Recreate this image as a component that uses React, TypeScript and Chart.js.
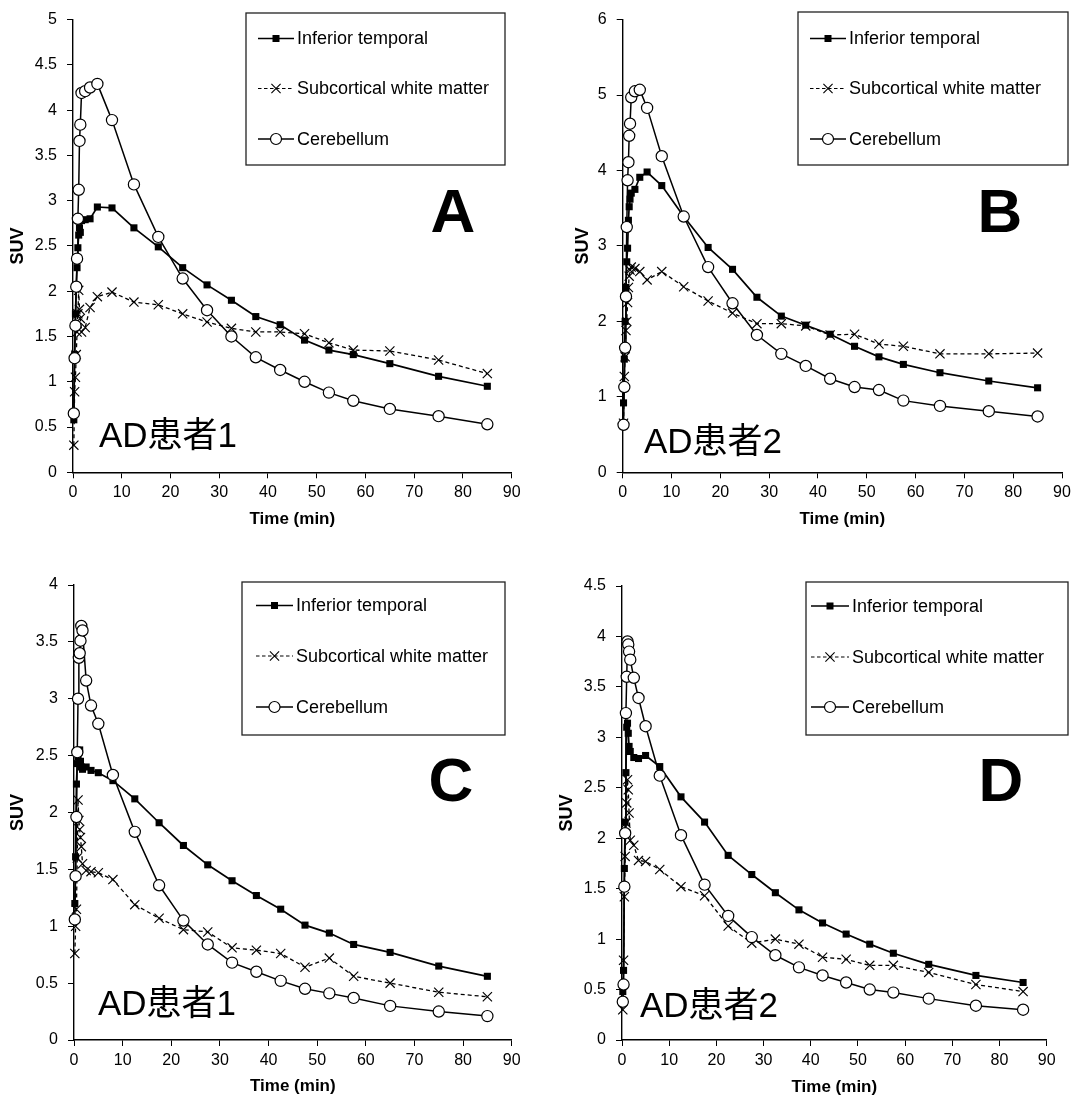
import React, { useEffect, useRef } from "react";
import { Chart, registerables } from "chart.js";

Chart.register(...registerables);

// Frame mid-times (min), shared by all panels
const timeMin = [0.17, 0.33, 0.5, 0.67, 0.83, 1.0, 1.17, 1.33, 1.5, 1.75, 2.5, 3.5, 5, 8, 12.5, 17.5, 22.5, 27.5, 32.5, 37.5, 42.5, 47.5, 52.5, 57.5, 65, 75, 85];

const seriesNames = ["Inferior temporal", "Subcortical white matter", "Cerebellum"];

// Panel A
const itA = [0.58, 1.3, 1.75, 2.05, 2.26, 2.48, 2.62, 2.7, 2.65, 2.78, 2.79, 2.8, 2.93, 2.92, 2.7, 2.49, 2.26, 2.07, 1.9, 1.72, 1.63, 1.46, 1.35, 1.3, 1.2, 1.06, 0.95];
const swmA = [0.3, 0.89, 1.05, 1.3, 1.55, 1.75, 2.01, 1.8, 1.7, 1.55, 1.6, 1.82, 1.94, 1.99, 1.88, 1.85, 1.75, 1.66, 1.59, 1.55, 1.55, 1.53, 1.43, 1.35, 1.34, 1.24, 1.09];
const cerA = [0.65, 1.26, 1.62, 2.05, 2.36, 2.8, 3.12, 3.66, 3.84, 4.19, 4.21, 4.25, 4.29, 3.89, 3.18, 2.6, 2.14, 1.79, 1.5, 1.27, 1.13, 1.0, 0.88, 0.79, 0.7, 0.62, 0.53];

// Panel B
const itB = [0.92, 1.5, 2.0, 2.45, 2.79, 2.97, 3.34, 3.52, 3.62, 3.7, 3.75, 3.91, 3.98, 3.8, 3.39, 2.98, 2.69, 2.32, 2.07, 1.95, 1.83, 1.67, 1.53, 1.43, 1.32, 1.21, 1.12];
const swmB = [0.65, 1.27, 1.53, 1.88, 2.0, 2.25, 2.45, 2.6, 2.68, 2.72, 2.7, 2.66, 2.55, 2.66, 2.46, 2.27, 2.11, 1.97, 1.97, 1.94, 1.82, 1.83, 1.7, 1.67, 1.57, 1.57, 1.58];
const cerB = [0.63, 1.13, 1.65, 2.33, 3.25, 3.87, 4.11, 4.46, 4.62, 4.97, 5.05, 5.07, 4.83, 4.19, 3.39, 2.72, 2.24, 1.82, 1.57, 1.41, 1.24, 1.13, 1.09, 0.95, 0.88, 0.81, 0.74];

// Panel C
const itC = [1.2, 1.61, 2.25, 2.43, 2.49, 2.53, 2.55, 2.45, 2.4, 2.38, 2.4, 2.37, 2.35, 2.28, 2.12, 1.91, 1.71, 1.54, 1.4, 1.27, 1.15, 1.01, 0.94, 0.84, 0.77, 0.65, 0.56];
const swmC = [0.76, 1.0, 1.15, 1.6, 2.11, 1.93, 1.85, 1.78, 1.7, 1.55, 1.49, 1.48, 1.47, 1.41, 1.19, 1.07, 0.97, 0.95, 0.81, 0.79, 0.76, 0.64, 0.72, 0.56, 0.5, 0.42, 0.38];
const cerC = [1.06, 1.44, 1.96, 2.53, 3.0, 3.36, 3.4, 3.51, 3.64, 3.6, 3.16, 2.94, 2.78, 2.33, 1.83, 1.36, 1.05, 0.84, 0.68, 0.6, 0.52, 0.45, 0.41, 0.37, 0.3, 0.25, 0.21];

// Panel D
const itD = [0.48, 0.69, 1.7, 2.16, 2.65, 3.1, 3.14, 3.04, 2.91, 2.86, 2.8, 2.79, 2.82, 2.71, 2.41, 2.16, 1.83, 1.64, 1.46, 1.29, 1.16, 1.05, 0.95, 0.86, 0.75, 0.64, 0.57];
const swmD = [0.3, 0.79, 1.42, 1.82, 2.15, 2.35, 2.58, 2.48, 2.25, 1.98, 1.93, 1.78, 1.77, 1.69, 1.52, 1.43, 1.13, 0.96, 1.0, 0.95, 0.82, 0.8, 0.74, 0.74, 0.67, 0.55, 0.48];
const cerD = [0.38, 0.55, 1.52, 2.05, 3.24, 3.6, 3.95, 3.92, 3.85, 3.77, 3.59, 3.39, 3.11, 2.62, 2.03, 1.54, 1.23, 1.02, 0.84, 0.72, 0.64, 0.57, 0.5, 0.47, 0.41, 0.34, 0.3];

// Axis ranges / tick steps
const xMax = 90;
const xStep = 10;
const yMaxes = [5, 6, 4, 4.5];
const ySteps = [0.5, 1, 0.5, 0.5];
const panelLetters = ["A", "B", "C", "D"];
const panelCaptions = ["AD患者1", "AD患者2", "AD患者1", "AD患者2"];

const FONT = '"Liberation Sans", Arial, "Noto Sans CJK JP", sans-serif';

type Geo = {
  left: number; top: number;
  l: number; r: number; t: number; b: number;
  suvX: number; timeY: number;
  letterX: number; letterY: number;
  capX: number; capY: number;
  box: [number, number, number, number];
  rows: [number, number, number];
  lx0: number; lx1: number; tx: number;
};

const geos: Geo[] = [
  { left: 0, top: 0, l: 73, r: 511.7, t: 18.3, b: 472.3, suvX: 18.5, timeY: 519, letterX: 453, letterY: 215, capX: 99, capY: 447, box: [246, 13, 259, 152], rows: [38.5, 88.5, 139], lx0: 258, lx1: 294, tx: 297 },
  { left: 540, top: 0, l: 82.7, r: 522, t: 19, b: 472.3, suvX: 43.5, timeY: 519, letterX: 460, letterY: 215, capX: 104, capY: 453, box: [258, 12, 270, 153], rows: [38.5, 88.5, 139], lx0: 270, lx1: 306, tx: 309 },
  { left: 0, top: 551, l: 74, r: 511.7, t: 34, b: 489, suvX: 18.5, timeY: 535.7, letterX: 451, letterY: 233, capX: 98, capY: 464, box: [242, 31, 263, 153], rows: [54.5, 105, 156], lx0: 256, lx1: 293, tx: 296 },
  { left: 540, top: 551, l: 82, r: 506.7, t: 35, b: 489, suvX: 27.5, timeY: 536, letterX: 461, letterY: 233, capX: 100, capY: 466, box: [266, 31, 262, 153], rows: [55, 106, 156], lx0: 271, lx1: 309, tx: 312 },
];

const panelSeries = [
  [itA, swmA, cerA],
  [itB, swmB, cerB],
  [itC, swmC, cerC],
  [itD, swmD, cerD],
];

function drawMarker(ctx: CanvasRenderingContext2D, kind: number, x: number, y: number) {
  ctx.save();
  ctx.setLineDash([]);
  if (kind === 0) {
    ctx.fillStyle = "#000";
    ctx.fillRect(x - 3.5, y - 3.5, 7, 7);
  } else if (kind === 1) {
    ctx.strokeStyle = "#000";
    ctx.lineWidth = 1.1;
    const d = 4.6;
    ctx.beginPath();
    ctx.moveTo(x - d, y - d); ctx.lineTo(x + d, y + d);
    ctx.moveTo(x - d, y + d); ctx.lineTo(x + d, y - d);
    ctx.stroke();
  } else {
    ctx.fillStyle = "#fff";
    ctx.strokeStyle = "#000";
    ctx.lineWidth = 1.2;
    ctx.beginPath();
    ctx.arc(x, y, 5.5, 0, Math.PI * 2);
    ctx.fill();
    ctx.stroke();
  }
  ctx.restore();
}

function PanelChart({ idx }: { idx: number }) {
  const ref = useRef<HTMLCanvasElement>(null);
  const g = geos[idx];
  useEffect(() => {
    const canvas = ref.current!;
    const [it, swm, cer] = panelSeries[idx];
    const mk = (arr: number[]) => timeMin.map((t, i) => ({ x: t, y: arr[i] }));
    const W = 540, H = 551;
    const xAxisH = 40;
    const overlay = {
      id: "overlay" + idx,
      afterDraw(chart: any) {
        const ctx: CanvasRenderingContext2D = chart.ctx;
        const a = chart.chartArea;
        ctx.save();
        ctx.fillStyle = "#000";
        ctx.font = `bold 18px ${FONT}`;
        ctx.textAlign = "center";
        ctx.textBaseline = "middle";
        ctx.translate(g.suvX, (a.top + a.bottom) / 2);
        ctx.rotate(-Math.PI / 2);
        ctx.fillText("SUV", 0, 0);
        ctx.restore();

        ctx.save();
        ctx.fillStyle = "#000";
        ctx.textAlign = "center";
        ctx.textBaseline = "middle";
        ctx.font = `bold 17px ${FONT}`;
        ctx.fillText("Time (min)", (a.left + a.right) / 2, g.timeY);
        ctx.font = `bold 62px ${FONT}`;
        ctx.fillText(panelLetters[idx], g.letterX, g.letterY);
        ctx.textAlign = "left";
        ctx.textBaseline = "alphabetic";
        ctx.font = `35px ${FONT}`;
        ctx.fillText(panelCaptions[idx], g.capX, g.capY);

        // legend
        const [bx, by, bw, bh] = g.box;
        ctx.fillStyle = "#fff";
        ctx.fillRect(bx, by, bw, bh);
        ctx.strokeStyle = "#222";
        ctx.lineWidth = 1.3;
        ctx.strokeRect(bx, by, bw, bh);
        ctx.font = `18px ${FONT}`;
        ctx.textBaseline = "middle";
        for (let k = 0; k < 3; k++) {
          const y = g.rows[k];
          ctx.strokeStyle = "#000";
          ctx.lineWidth = k === 1 ? 1.2 : 1.5;
          ctx.setLineDash(k === 1 ? [3.5, 2.5] : []);
          ctx.beginPath();
          ctx.moveTo(g.lx0, y);
          ctx.lineTo(g.lx1, y);
          ctx.stroke();
          ctx.setLineDash([]);
          drawMarker(ctx, k, (g.lx0 + g.lx1) / 2, y);
          ctx.fillStyle = "#000";
          ctx.fillText(seriesNames[k], g.tx, y + 1);
        }
        ctx.restore();
      },
    };

    const chart = new Chart(canvas, {
      type: "line",
      data: {
        datasets: [
          {
            label: seriesNames[2],
            data: mk(cer),
            borderColor: "#000",
            borderWidth: 1.5,
            pointStyle: "circle",
            pointRadius: 5.6,
            pointBackgroundColor: "#fff",
            pointBorderColor: "#000",
            pointBorderWidth: 1.2,
            tension: 0,
            clip: false,
          },
          {
            label: seriesNames[0],
            data: mk(it),
            borderColor: "#000",
            borderWidth: 1.7,
            pointStyle: "rect",
            pointRadius: 5,
            pointBackgroundColor: "#000",
            pointBorderColor: "#000",
            pointBorderWidth: 0,
            tension: 0,
            clip: false,
          },
          {
            label: seriesNames[1],
            data: mk(swm),
            borderColor: "#000",
            borderWidth: 1.3,
            borderDash: [4, 3],
            pointStyle: "crossRot",
            pointRadius: 6.5,
            pointBorderColor: "#000",
            pointBorderWidth: 1.15,
            pointBackgroundColor: "#fff",
            tension: 0,
            clip: false,
          },
        ] as any,
      },
      options: {
        responsive: false,
        animation: false,
        devicePixelRatio: 1,
        layout: {
          padding: { left: 0, top: g.t, right: W - g.r, bottom: H - g.b - xAxisH },
        },
        plugins: { legend: { display: false }, tooltip: { enabled: false } },
        scales: {
          x: {
            type: "linear",
            min: 0,
            max: xMax,
            ticks: {
              stepSize: xStep,
              color: "#000",
              font: { size: 16, family: FONT },
              padding: 5,
              maxRotation: 0,
              autoSkip: false,
            },
            grid: { display: true, drawOnChartArea: false, drawTicks: true, tickLength: 6, color: "#000", lineWidth: 1 },
            border: { display: true, color: "#000", width: 1.4 },
            afterFit: (s: any) => { s.height = xAxisH; },
          },
          y: {
            type: "linear",
            min: 0,
            max: yMaxes[idx],
            ticks: {
              stepSize: ySteps[idx],
              color: "#000",
              font: { size: 16, family: FONT },
              padding: 10,
              autoSkip: false,
              callback: (v: any) => String(Math.round(Number(v) * 100) / 100),
            },
            grid: { display: true, drawOnChartArea: false, drawTicks: true, tickLength: 6, color: "#000", lineWidth: 1 },
            border: { display: true, color: "#000", width: 1.4 },
            afterFit: (s: any) => { s.width = g.l; },
          },
        },
      } as any,
      plugins: [overlay],
    });
    return () => chart.destroy();
  }, [idx]);

  return (
    <div style={{ position: "absolute", left: g.left, top: g.top, width: 540, height: 551 }}>
      <canvas ref={ref} width={540} height={551} style={{ width: 540, height: 551, display: "block" }} />
    </div>
  );
}

export default function App() {
  return (
    <div style={{ position: "absolute", left: 0, top: 0, width: 1080, height: 1102, background: "#fff", overflow: "hidden" }}>
      {[0, 1, 2, 3].map((i) => (
        <PanelChart key={i} idx={i} />
      ))}
    </div>
  );
}
